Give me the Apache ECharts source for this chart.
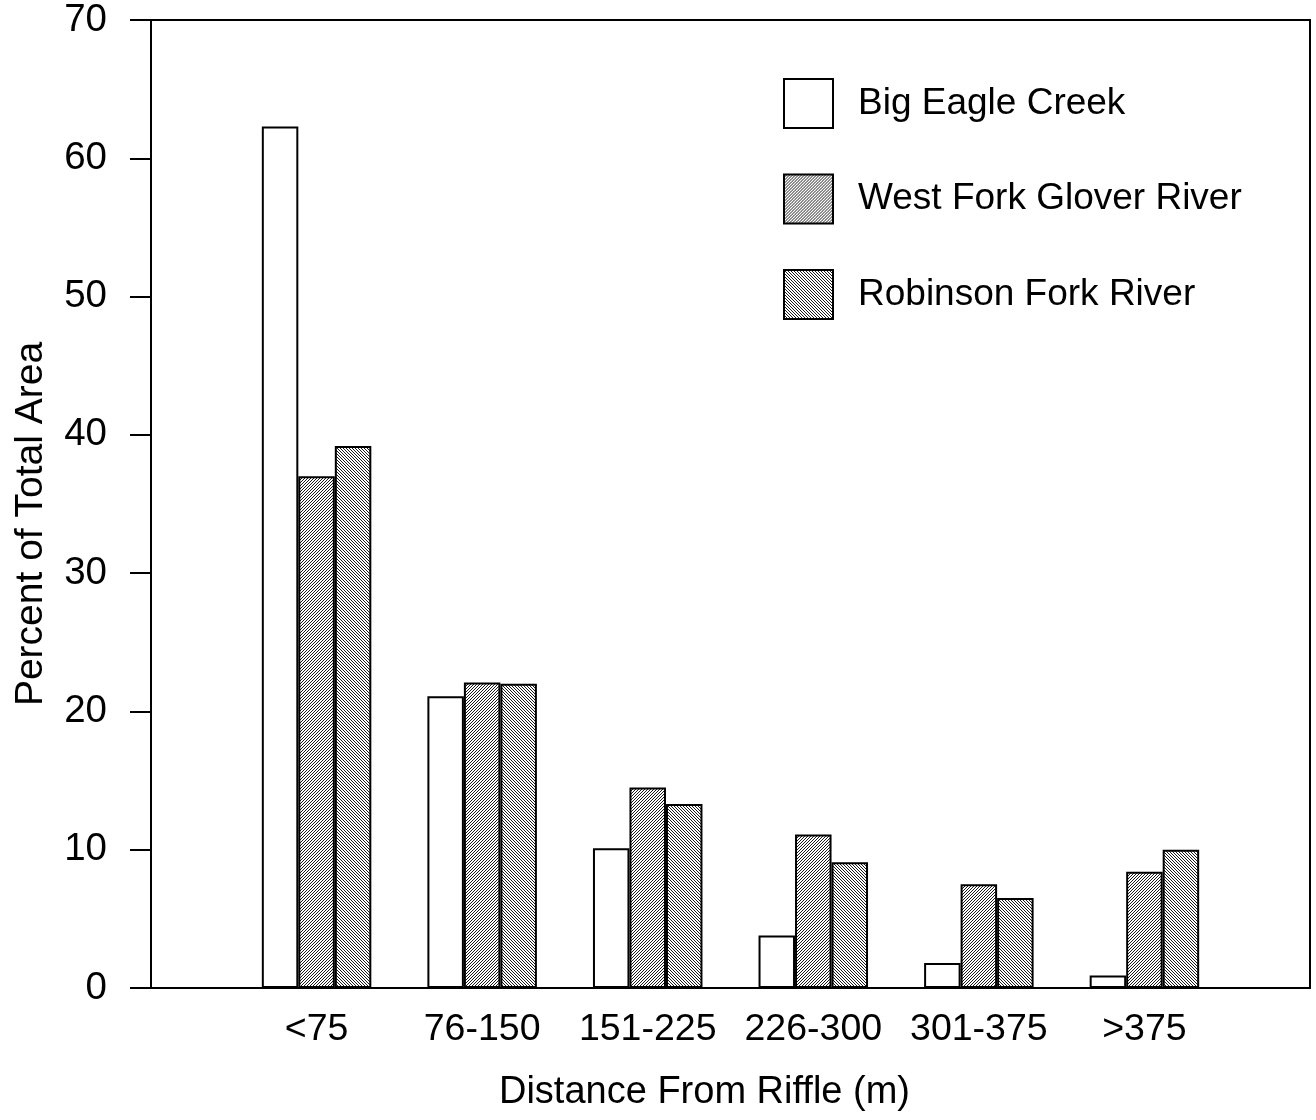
<!DOCTYPE html>
<html>
<head>
<meta charset="utf-8">
<style>
  html, body { margin: 0; padding: 0; background: #fff; }
  #chart { width: 1316px; height: 1120px; }
</style>
<script src="https://cdn.jsdelivr.net/npm/echarts@6/dist/echarts.min.js"></script>
</head>
<body>
<div id="chart"></div>
<script>
// Distance classes (m) from the riffle
const categories = ['<75', '76-150', '151-225', '226-300', '301-375', '>375'];
// Percent of total area per stream
const bigEagleCreek = [62.3, 21.1, 10.1, 3.8, 1.8, 0.9];
const westForkGlover = [37.0, 22.1, 14.5, 11.1, 7.5, 8.4];
const robinsonFork = [39.2, 22.0, 13.3, 9.1, 6.5, 10.0];
const seriesNames = ['Big Eagle Creek', 'West Fork Glover River', 'Robinson Fork River'];
const yTicks = { min: 0, max: 70, step: 10 };

const FONT = "'Liberation Sans', Arial, sans-serif";

// Diagonal hatch tile; dir = 1 for "/" lines, -1 for "\" lines
function hatch(dir) {
  const s = 6, step = 3;
  const c = document.createElement('canvas');
  c.width = s; c.height = s;
  const g = c.getContext('2d');
  g.fillStyle = '#fff';
  g.fillRect(0, 0, s, s);
  g.strokeStyle = '#000';
  g.lineWidth = 0.9;
  g.beginPath();
  for (let k = -s; k <= 2 * s; k += step) {
    if (dir > 0) { g.moveTo(k, 0); g.lineTo(k - s, s); }
    else { g.moveTo(k, 0); g.lineTo(k + s, s); }
  }
  g.stroke();
  return { image: c, repeat: 'repeat' };
}

// Empty slots on both ends keep the groups off the frame edges
const xCats = [''].concat(categories, ['']);
const pad = arr => ['-'].concat(arr, ['-']);

const fills = ['#ffffff', hatch(1), hatch(-1)];
const values = [bigEagleCreek, westForkGlover, robinsonFork];

const chart = echarts.init(document.getElementById('chart'), null, { renderer: 'canvas' });
chart.setOption({
  animation: false,
  backgroundColor: '#fff',
  textStyle: { fontFamily: FONT, color: '#000' },
  grid: {
    left: 151, right: 6, top: 20, bottom: 132,
    show: true, borderColor: '#000', borderWidth: 2, backgroundColor: 'transparent'
  },
  legend: {
    orient: 'vertical',
    left: 783, top: 78,
    padding: 0,
    itemWidth: 49, itemHeight: 49, itemGap: 44.5,
    icon: 'rect',
    textStyle: { fontFamily: FONT, fontSize: 37, color: '#000', padding: [0, 0, 0, 20] },
    data: seriesNames
  },
  xAxis: {
    type: 'category',
    data: xCats,
    boundaryGap: false,
    name: 'Distance From Riffle (m)',
    nameLocation: 'middle',
    nameGap: 86,
    nameTextStyle: { fontFamily: FONT, fontSize: 38, color: '#000', padding: [0, 52, 0, 0] },
    axisLine: { show: true, lineStyle: { color: '#000', width: 2 } },
    axisTick: { show: false },
    axisLabel: { interval: 0, margin: 23, fontFamily: FONT, fontSize: 37.5, color: '#000' },
    splitLine: { show: false }
  },
  yAxis: {
    type: 'value',
    min: yTicks.min, max: yTicks.max, interval: yTicks.step,
    name: 'Percent of Total Area',
    nameLocation: 'middle',
    nameRotate: 90,
    nameGap: 100,
    nameTextStyle: { fontFamily: FONT, fontSize: 39, color: '#000', padding: [0, 40, 0, 0] },
    axisLine: { show: true, lineStyle: { color: '#000', width: 2 } },
    axisTick: { show: true, inside: false, length: 21, lineStyle: { color: '#000', width: 2 } },
    axisLabel: { margin: 44, fontFamily: FONT, fontSize: 38.5, color: '#000' },
    splitLine: { show: false }
  },
  series: seriesNames.map((name, i) => ({
    name: name,
    type: 'bar',
    data: pad(values[i]),
    barWidth: 36.5,
    barGap: '0%',
    itemStyle: { color: fills[i], borderColor: '#000', borderWidth: 2 }
  }))
});
</script>
</body>
</html>
